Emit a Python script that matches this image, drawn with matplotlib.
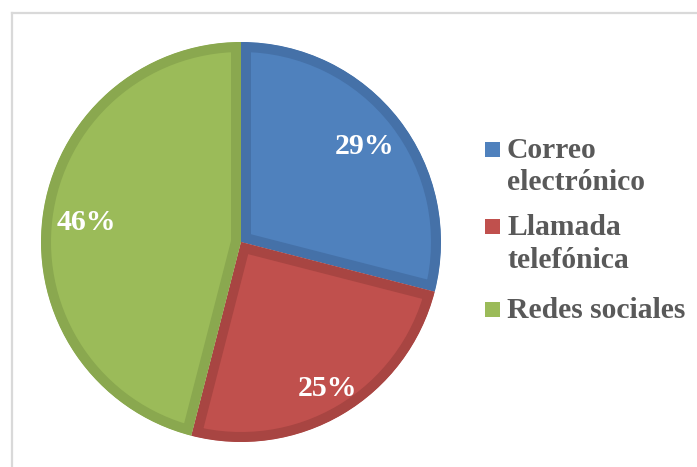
import matplotlib
matplotlib.use('Agg')
import matplotlib.pyplot as plt
from matplotlib.patches import Rectangle
from matplotlib.lines import Line2D
import numpy as np

categories = ['Correo\nelectrónico', 'Llamada\ntelefónica', 'Redes sociales']
shares = [29, 25, 46]
face_colors = ['#4F81BD', '#C0504D', '#9BBB59']
edge_colors = ['#4571A8', '#A84542', '#8AA84F']

W, H = 697, 467
plt.rcParams['font.family'] = ['Liberation Serif', 'DejaVu Serif']

fig = plt.figure(figsize=(W / 100, H / 100), dpi=100)

# pie centred at (241, 242) px with a 200 px radius
cx, cy, r = 241, 242, 200
ax = fig.add_axes([(cx - r) / W, (H - cy - r) / H, 2 * r / W, 2 * r / H])
wedges, _ = ax.pie(shares, colors=face_colors, startangle=90, counterclock=False,
                   wedgeprops=dict(linewidth=14.4))
ax.set_xlim(-1, 1)
ax.set_ylim(-1, 1)
for w, ec in zip(wedges, edge_colors):
    w.set_edgecolor(ec)
    w.set_clip_on(True)
    w.set_clip_path(w)  # keep only the inner half of the edge
ax.axis('off')

# percentage labels
label_r = [0.78, 0.85, 0.78]
start = 90.0
for v, lr in zip(shares, label_r):
    mid = np.deg2rad(start - v / sum(shares) * 360 / 2)
    start -= v / sum(shares) * 360
    ax.text(lr * np.cos(mid), lr * np.sin(mid), f'{v}%', color='white',
            fontsize=21.5, fontweight='bold', ha='center', va='center')

# legend drawn by hand, square beside the first line of each entry
baselines = [158, 235, 318]
line_gap = 32.5
for lab, col, base in zip(categories, face_colors, baselines):
    fig.patches.append(Rectangle(((485) / W, (H - base + 1) / H), 15 / W, 15 / H,
                                 transform=fig.transFigure, facecolor=col,
                                 edgecolor='none'))
    for i, line in enumerate(lab.split('\n')):
        fig.text(507 / W, (H - base - i * line_gap) / H, line, color='#595959',
                 fontsize=21.3, fontweight='bold', ha='left', va='baseline')

# chart area frame (top and left edges visible)
frame_kw = dict(color='#D9D9D9', linewidth=1.6, transform=fig.transFigure)
fig.add_artist(Line2D([11.5 / W, 1], [(H - 12.5) / H, (H - 12.5) / H], **frame_kw))
fig.add_artist(Line2D([11.5 / W, 11.5 / W], [0, (H - 12.5) / H], **frame_kw))

fig.savefig('out.png', dpi=100)
